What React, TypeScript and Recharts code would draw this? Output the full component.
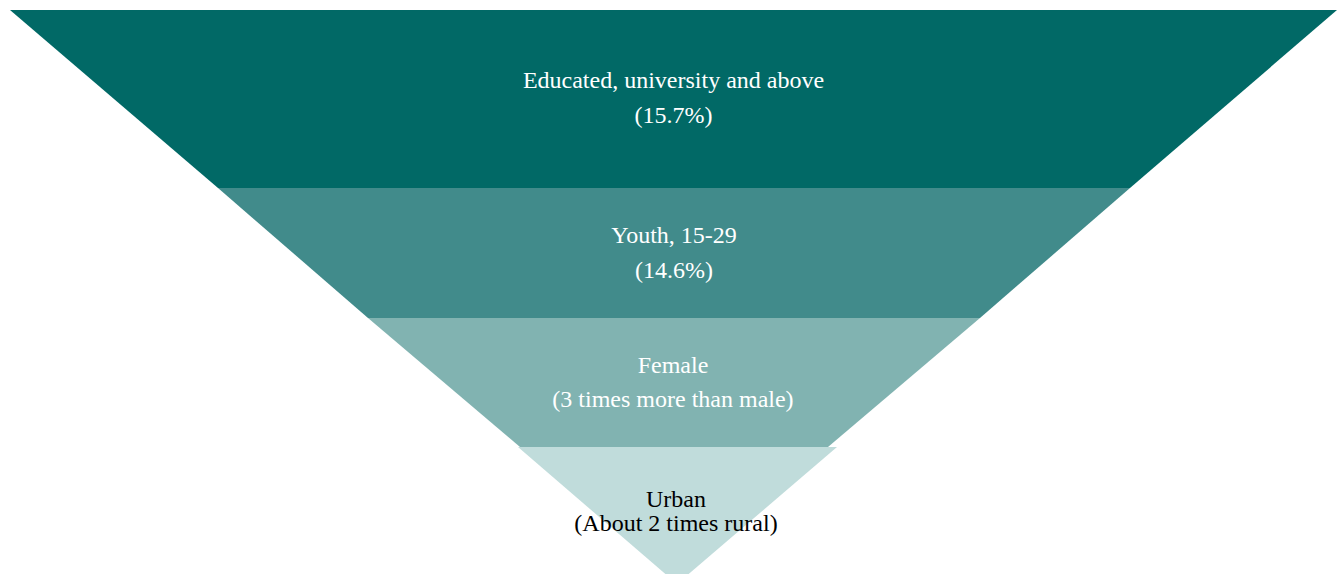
import React from 'react';
import { ComposedChart, Area, XAxis, YAxis, ReferenceDot } from 'recharts';

// segment text
const segmentNames = ['Educated, university and above', 'Youth, 15-29', 'Female', 'Urban'];
const segmentNotes = ['(15.7%)', '(14.6%)', '(3 times more than male)', '(About 2 times rural)'];

// funnel geometry (depth = vertical units, edges = horizontal units)
const bandTop = [10, 188, 318, 447];
const bandBottom = [188, 318, 447, 584];
const topLeft = [10, 218, 368, 518];
const topRight = [1337, 1130, 980, 837];
const bottomLeft = [218, 368, 520, 677];
const bottomRight = [1130, 980, 828, 677];

// label anchors
const labelCenter = [673.5, 674, 673, 676];
const labelDepth = [88, 243, 373, 507];
const lineGap = [35, 35, 34, 24];

const COLORS = ['#016966', '#418b8b', '#81b3b1', '#c0dcdb'];
const TEXT_COLORS = ['#ffffff', '#ffffff', '#ffffff', '#000000'];
const FONT = '"Liberation Serif", "Times New Roman", serif';

const W = 1343;
const H = 574;

// one row per boundary depth, each band gets its own key so bands don't join up
const depths = Array.from(new Set([...bandTop, ...bandBottom])).sort((a, b) => a - b);
const rows = depths.map(depth => {
  const row: Record<string, any> = { depth };
  segmentNames.forEach((_, i) => {
    if (depth === bandTop[i]) row[`b${i}`] = [topLeft[i], topRight[i]];
    if (depth === bandBottom[i]) row[`b${i}`] = [bottomLeft[i], bottomRight[i]];
  });
  return row;
});

const makeLabel = (i: number) => (props: any) => {
  const vb = props.viewBox || {};
  const cx = vb.x + (vb.width || 0) / 2;
  const cy = vb.y + (vb.height || 0) / 2;
  return (
    <text x={cx} y={cy} textAnchor="middle" fill={TEXT_COLORS[i]} fontFamily={FONT} fontSize={24}>
      <tspan x={cx} y={cy}>{segmentNames[i]}</tspan>
      <tspan x={cx} y={cy + lineGap[i]}>{segmentNotes[i]}</tspan>
    </text>
  );
};

const App: React.FC = () => {
  return (
    <div style={{ position: 'absolute', top: 0, left: 0, width: W, height: H, background: '#fff' }}>
      <ComposedChart width={W} height={H} data={rows} layout="vertical" margin={{ top: 0, right: 0, bottom: 0, left: 0 }}>
        <XAxis type="number" domain={[0, W]} hide />
        <YAxis type="number" dataKey="depth" domain={[0, H]} allowDataOverflow hide />
        {segmentNames.map((name, i) => (
          <Area
            key={name}
            dataKey={`b${i}`}
            type="linear"
            fill={COLORS[i]}
            fillOpacity={1}
            stroke="none"
            dot={false}
            activeDot={false}
            isAnimationActive={false}
          />
        ))}
        {segmentNames.map((name, i) => (
          <ReferenceDot
            key={`lbl-${name}`}
            x={labelCenter[i]}
            y={labelDepth[i]}
            r={0}
            fill="none"
            stroke="none"
            label={makeLabel(i)}
          />
        ))}
      </ComposedChart>
    </div>
  );
};

export default App;
